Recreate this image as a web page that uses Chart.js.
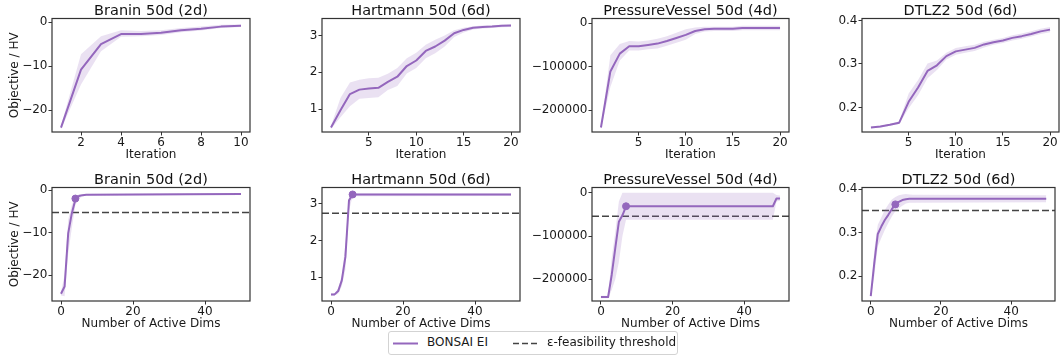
<!DOCTYPE html>
<html>
<head>
<meta charset="utf-8">
<script src="https://cdn.jsdelivr.net/npm/chart.js@4.4.1/dist/chart.umd.min.js"></script>
<style>
  html, body { margin: 0; padding: 0; background: #fff; }
  #fig { position: relative; width: 1060px; height: 356px; overflow: hidden; font-family: 'DejaVu Sans', sans-serif; }
  #fig canvas { position: absolute; }
  #legend { position: absolute; left: 388px; top: 331px; width: 288px; height: 22px; border: 1px solid #d3d3d3; border-radius: 3px; background: #fff; font-size: 12px; color: #1a1a1a; }
  #legend span { position: absolute; top: 3px; }
  #legend svg { position: absolute; top: 0; }
</style>
</head>
<body>
<div id="fig">
  <div id="legend">
    <svg width="30" height="22" style="left:4px"><line x1="0" y1="11.5" x2="25" y2="11.5" stroke="#9467bd" stroke-width="2"/></svg>
    <span style="left:38px">BONSAI EI</span>
    <svg width="30" height="22" style="left:124px"><line x1="0" y1="11.5" x2="25" y2="11.5" stroke="#444" stroke-width="1.5" stroke-dasharray="6,3"/></svg>
    <span style="left:158px">ε-feasibility threshold</span>
  </div>
</div>
<script>
// ---- data: top row, objective vs iteration ----
const iters10 = [1, 2, 3, 4, 5, 6, 7, 8, 9, 10];
const iters20 = [1, 2, 3, 4, 5, 6, 7, 8, 9, 10, 11, 12, 13, 14, 15, 16, 17, 18, 19, 20];

const braninIterMean = [-24.0, -10.8, -5.0, -2.7, -2.7, -2.4, -1.8, -1.5, -1.0, -0.8];
const braninIterHigh = [-23.6, -7.3, -3.2, -1.8, -2.0, -1.8, -1.3, -1.0, -0.6, -0.5];
const braninIterLow  = [-24.4, -14.2, -6.6, -3.3, -3.2, -2.9, -2.3, -1.9, -1.3, -1.1];

const hartIterMean = [0.50, 0.97, 1.41, 1.53, 1.56, 1.58, 1.74, 1.88, 2.17, 2.32, 2.58, 2.70, 2.86, 3.06, 3.15, 3.21, 3.23, 3.24, 3.26, 3.27];
const hartIterHigh = [0.55, 1.30, 1.72, 1.80, 1.84, 1.85, 1.96, 2.12, 2.38, 2.53, 2.75, 2.88, 3.00, 3.14, 3.21, 3.25, 3.27, 3.28, 3.29, 3.30];
const hartIterLow  = [0.46, 0.78, 1.08, 1.28, 1.30, 1.32, 1.52, 1.63, 1.97, 2.12, 2.38, 2.52, 2.70, 2.96, 3.08, 3.16, 3.19, 3.20, 3.22, 3.23];

const pvIterMean = [-240000, -111000, -70000, -53000, -53000, -50000, -47000, -41000, -34000, -27000, -18000, -14000, -13000, -13000, -13000, -11000, -11000, -11000, -11000, -11000];
const pvIterHigh = [-236000, -74000, -48000, -41000, -42000, -40000, -36000, -30000, -22000, -14000, -10000, -8000, -8000, -8000, -8000, -6000, -6000, -6000, -6000, -6000];
const pvIterLow  = [-244000, -147000, -86000, -63000, -63000, -60000, -58000, -52000, -45000, -38000, -25000, -19000, -18000, -18000, -18000, -16000, -16000, -16000, -16000, -16000];

const dtlzIterMean = [0.154, 0.156, 0.160, 0.165, 0.213, 0.246, 0.284, 0.297, 0.318, 0.329, 0.333, 0.337, 0.345, 0.350, 0.354, 0.360, 0.364, 0.369, 0.375, 0.379];
const dtlzIterHigh = [0.156, 0.158, 0.162, 0.168, 0.232, 0.263, 0.301, 0.308, 0.326, 0.337, 0.341, 0.344, 0.351, 0.356, 0.360, 0.366, 0.370, 0.375, 0.381, 0.385];
const dtlzIterLow  = [0.152, 0.154, 0.158, 0.162, 0.198, 0.228, 0.267, 0.286, 0.310, 0.321, 0.326, 0.330, 0.338, 0.344, 0.348, 0.354, 0.358, 0.363, 0.369, 0.373];

// ---- data: bottom row, objective vs number of active dims ----
const braninDims     = [0, 1, 2, 3, 4, 5, 6, 7, 50];
const braninDimsMean = [-24.4, -22.7, -10.2, -5.5, -2.2, -1.4, -1.2, -1.1, -0.9];
const braninDimsHigh = [-24.0, -20.0, -7.0, -3.5, -1.5, -1.0, -0.9, -0.9, -0.7];
const braninDimsLow  = [-24.8, -25.0, -15.0, -9.0, -3.5, -2.0, -1.5, -1.3, -1.1];
const braninThreshold = -5.3;
const braninMarker = [4, -2.0];

const hartDims     = [0, 1, 2, 3, 4, 5, 6, 50];
const hartDimsMean = [0.53, 0.53, 0.62, 0.91, 1.55, 3.09, 3.25, 3.25];
const hartDimsHigh = [0.56, 0.56, 0.70, 1.05, 1.90, 3.20, 3.28, 3.28];
const hartDimsLow  = [0.50, 0.50, 0.55, 0.75, 1.20, 2.80, 3.20, 3.21];
const hartThreshold = 2.74;
const hartMarker = [6, 3.25];

const pvDims     = [0, 1, 2, 3, 4, 5, 6, 7, 48, 49, 50];
const pvDimsMean = [-241000, -241000, -241000, -190000, -128000, -67000, -52000, -31000, -31000, -13000, -13000];
const pvDimsHigh = [-238000, -238000, -238000, -150000, -90000, -20000, 0, 0, 0, -5000, -6000];
const pvDimsLow  = [-244000, -244000, -244000, -225000, -200000, -160000, -100000, -62000, -62000, -20000, -18000];
const pvThreshold = -54000;
const pvMarker = [7, -31000];

const dtlzDims     = [0, 1, 2, 3, 4, 5, 6, 7, 8, 9, 10, 11, 12, 50];
const dtlzDimsMean = [0.154, 0.230, 0.297, 0.314, 0.329, 0.341, 0.354, 0.365, 0.371, 0.375, 0.377, 0.378, 0.378, 0.378];
const dtlzDimsHigh = [0.156, 0.260, 0.318, 0.335, 0.352, 0.365, 0.376, 0.382, 0.386, 0.388, 0.389, 0.388, 0.387, 0.386];
const dtlzDimsLow  = [0.152, 0.200, 0.268, 0.288, 0.306, 0.322, 0.337, 0.349, 0.356, 0.362, 0.367, 0.369, 0.369, 0.370];
const dtlzThreshold = 0.351;
const dtlzMarker = [7, 0.365];

// ---- tick labels ----
const iterTicks10 = [2, 4, 6, 8, 10];
const iterTicks20 = [5, 10, 15, 20];
const dimTicks = [0, 20, 40];
const braninYTicks = [-20, -10, 0];
const hartYTicks = [1, 2, 3];
const pvYTicks = [-200000, -100000, 0];
const dtlzYTicks = [0.2, 0.3, 0.4];

const PURPLE = '#9467bd';
const BAND = 'rgba(148, 103, 189, 0.2)';
const AXIS = '#333';

Chart.defaults.font.family = "'DejaVu Sans', sans-serif";
Chart.defaults.color = '#1a1a1a';

const frame = {
  id: 'frame',
  afterDraw(chart) {
    const a = chart.chartArea, c = chart.ctx;
    c.save();
    c.strokeStyle = AXIS;
    c.lineWidth = 1.2;
    c.strokeRect(a.left, a.top, a.right - a.left, a.bottom - a.top);
    c.restore();
  }
};

const fmt = v => (v < 0 ? '\u2212' + Math.abs(v) : String(v));
const pts = (xs, ys) => xs.map((x, i) => ({ x, y: ys[i] }));

function makePanel(p) {
  const cv = document.createElement('canvas');
  cv.width = p.w; cv.height = 166;
  cv.style.left = p.left + 'px';
  cv.style.top = p.top + 'px';
  document.getElementById('fig').appendChild(cv);

  const datasets = [
    { data: pts(p.xs, p.low), borderWidth: 0, pointRadius: 0, fill: false },
    { data: pts(p.xs, p.high), borderWidth: 0, pointRadius: 0, fill: '-1', backgroundColor: BAND },
    { data: pts(p.xs, p.mean), borderColor: PURPLE, borderWidth: 2, pointRadius: 0, fill: false, borderJoinStyle: 'round' }
  ];
  if (p.thr !== undefined) {
    datasets.push({ data: [{ x: p.xMin, y: p.thr }, { x: p.xMax, y: p.thr }], borderColor: '#444', borderWidth: 1.5, borderDash: [7, 3], pointRadius: 0, fill: false });
    datasets.push({ data: [{ x: p.mark[0], y: p.mark[1] }], showLine: false, pointRadius: 3.5, pointBackgroundColor: PURPLE, pointBorderColor: PURPLE });
  }

  new Chart(cv, {
    type: 'line',
    data: { datasets },
    plugins: [frame],
    options: {
      responsive: false,
      animation: false,
      layout: { padding: { left: 0, right: p.padR, top: 0, bottom: 0 } },
      elements: { line: { tension: 0 } },
      plugins: {
        legend: { display: false },
        tooltip: { enabled: false },
        title: { display: true, text: p.title, fullSize: false, color: '#111', font: { size: 14.5, weight: 'normal', lineHeight: 1 }, padding: { top: 4, bottom: 0 } }
      },
      scales: {
        x: {
          type: 'linear', min: p.xMin, max: p.xMax,
          afterBuildTicks: s => { s.ticks = p.xTicks.map(v => ({ value: v })); },
          afterFit: s => { s.height = 34; },
          grid: { drawOnChartArea: false, drawTicks: true, tickLength: 3.5, color: AXIS },
          border: { display: false },
          ticks: { font: { size: 12 }, padding: 0, maxRotation: 0, callback: fmt },
          title: { display: true, text: p.xTitle, font: { size: 12 }, padding: { top: 0, bottom: 4 } }
        },
        y: {
          type: 'linear', min: p.yMin, max: p.yMax,
          afterBuildTicks: s => { s.ticks = p.yTicks.map(v => ({ value: v })); },
          afterFit: s => { s.width = p.yw; },
          grid: { drawOnChartArea: false, drawTicks: true, tickLength: 3.5, color: AXIS },
          border: { display: false },
          ticks: { font: { size: 12 }, padding: 1, callback: fmt },
          title: { display: p.yTitle, text: 'Objective / HV', font: { size: 12 }, padding: { top: 8, bottom: 0 } }
        }
      }
    }
  });
}

const cols = [
  { left: 0, w: 258, yw: 52, padR: 8, yTitle: true },
  { left: 270, w: 258, yw: 52, padR: 8, yTitle: false },
  { left: 530, w: 267, yw: 62, padR: 8, yTitle: false },
  { left: 810, w: 250, yw: 52, padR: 1, yTitle: false }
];
const ROW1 = 0, ROW2 = 169;

const panels = [
  { col: 0, top: ROW1, title: 'Branin 50d (2d)', xTitle: 'Iteration', xs: iters10, mean: braninIterMean, high: braninIterHigh, low: braninIterLow,
    xMin: 0.55, xMax: 10.45, xTicks: iterTicks10, yMin: -25.0, yMax: 0.85, yTicks: braninYTicks },
  { col: 1, top: ROW1, title: 'Hartmann 50d (6d)', xTitle: 'Iteration', xs: iters20, mean: hartIterMean, high: hartIterHigh, low: hartIterLow,
    xMin: 0.05, xMax: 20.95, xTicks: iterTicks20, yMin: 0.38, yMax: 3.46, yTicks: hartYTicks },
  { col: 2, top: ROW1, title: 'PressureVessel 50d (4d)', xTitle: 'Iteration', xs: iters20, mean: pvIterMean, high: pvIterHigh, low: pvIterLow,
    xMin: 0.05, xMax: 20.95, xTicks: iterTicks20, yMin: -250300, yMax: 10750, yTicks: pvYTicks },
  { col: 3, top: ROW1, title: 'DTLZ2 50d (6d)', xTitle: 'Iteration', xs: iters20, mean: dtlzIterMean, high: dtlzIterHigh, low: dtlzIterLow,
    xMin: 0.05, xMax: 20.95, xTicks: iterTicks20, yMin: 0.1435, yMax: 0.4046, yTicks: dtlzYTicks },
  { col: 0, top: ROW2, title: 'Branin 50d (2d)', xTitle: 'Number of Active Dims', xs: braninDims, mean: braninDimsMean, high: braninDimsHigh, low: braninDimsLow,
    thr: braninThreshold, mark: braninMarker, xMin: -2.5, xMax: 52.5, xTicks: dimTicks, yMin: -26.1, yMax: 0.6, yTicks: braninYTicks },
  { col: 1, top: ROW2, title: 'Hartmann 50d (6d)', xTitle: 'Number of Active Dims', xs: hartDims, mean: hartDimsMean, high: hartDimsHigh, low: hartDimsLow,
    thr: hartThreshold, mark: hartMarker, xMin: -2.5, xMax: 52.5, xTicks: dimTicks, yMin: 0.35, yMax: 3.44, yTicks: hartYTicks },
  { col: 2, top: ROW2, title: 'PressureVessel 50d (4d)', xTitle: 'Number of Active Dims', xs: pvDims, mean: pvDimsMean, high: pvDimsHigh, low: pvDimsLow,
    thr: pvThreshold, mark: pvMarker, xMin: -2.5, xMax: 52.5, xTicks: dimTicks, yMin: -250200, yMax: 12400, yTicks: pvYTicks },
  { col: 3, top: ROW2, title: 'DTLZ2 50d (6d)', xTitle: 'Number of Active Dims', xs: dtlzDims, mean: dtlzDimsMean, high: dtlzDimsHigh, low: dtlzDimsLow,
    thr: dtlzThreshold, mark: dtlzMarker, xMin: -2.5, xMax: 52.5, xTicks: dimTicks, yMin: 0.143, yMax: 0.4038, yTicks: dtlzYTicks }
];

panels.forEach(p => makePanel(Object.assign({}, cols[p.col], p)));
// keep the legend on top of the canvases
document.getElementById('fig').appendChild(document.getElementById('legend'));
</script>
</body>
</html>
